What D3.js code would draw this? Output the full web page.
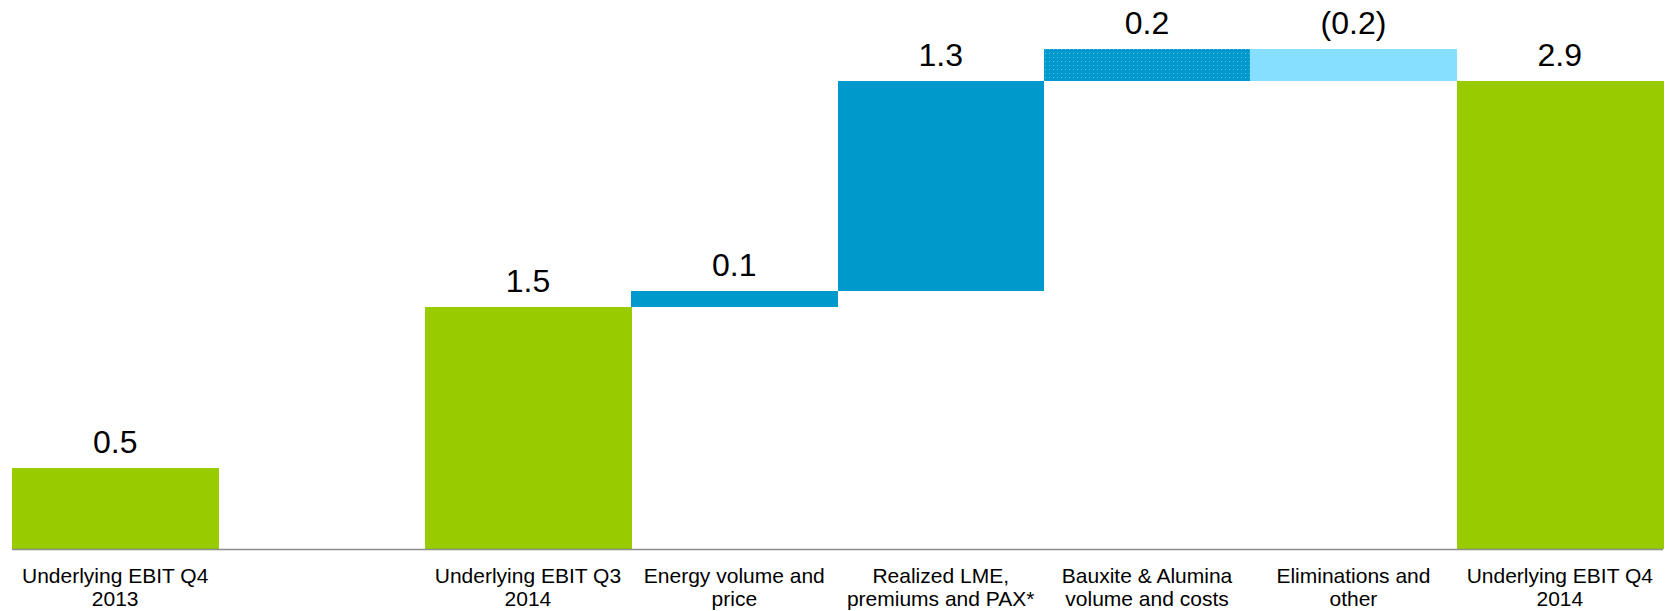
<!DOCTYPE html>
<html>
<head>
<meta charset="utf-8">
<script src="https://cdn.jsdelivr.net/npm/d3@7"></script>
<style>
  html, body { margin: 0; padding: 0; background: #fff; }
  svg { display: block; }
  text { font-family: "Liberation Sans", Arial, sans-serif; fill: #000; }
</style>
</head>
<body>
<svg id="chart" width="1671" height="611"></svg>
<script>
// EBIT bridge, Q4 2013 -> Q4 2014 (NOK billion)
const categories = [
  "Underlying EBIT Q4 2013",
  "",
  "Underlying EBIT Q3 2014",
  "Energy volume and price",
  "Realized LME, premiums and PAX*",
  "Bauxite & Alumina volume and costs",
  "Eliminations and other",
  "Underlying EBIT Q4 2014"
];
const categoryLines = [
  ["Underlying EBIT Q4", "2013"],
  [],
  ["Underlying EBIT Q3", "2014"],
  ["Energy volume and", "price"],
  ["Realized LME,", "premiums and PAX*"],
  ["Bauxite & Alumina", "volume and costs"],
  ["Eliminations and", "other"],
  ["Underlying EBIT Q4", "2014"]
];
// "total" bars start at zero, "delta" bars float on the running total
const values = [0.5, null, 1.5, 0.1, 1.3, 0.2, -0.2, 2.9];
const kinds  = ["total", null, "total", "delta", "delta", "delta", "delta", "total"];
const styles = ["green", null, "green", "blue", "blue", "dotted", "light", "green"];

const fills = {
  green: "#99cc00",
  blue: "#0099cc",
  dotted: "url(#dots)",
  light: "#87dfff"
};

const svg = d3.select("#chart");

// dotted fill for the bauxite & alumina step
const pat = svg.append("defs").append("pattern")
  .attr("id", "dots")
  .attr("width", 4).attr("height", 4)
  .attr("patternUnits", "userSpaceOnUse");
pat.append("rect").attr("width", 4).attr("height", 4).attr("fill", "#0099cc");
pat.append("rect").attr("x", 1).attr("y", 1).attr("width", 1).attr("height", 1).attr("fill", "#5cc0e6");

const x = d3.scaleBand().domain(categories.map((c, i) => i)).range([12, 1663]).padding(0);
const y = d3.scaleLinear().domain([0, 3.1]).range([549, 49]);

// running totals for the floating steps
let running = 0;
const bars = [];
values.forEach((v, i) => {
  if (v === null) return;
  let start, end;
  if (kinds[i] === "total") { start = 0; end = v; running = v; }
  else { start = running; end = running + v; running = end; }
  bars.push({ i, v, start, end, style: styles[i] });
});

svg.append("g").selectAll("rect")
  .data(bars)
  .join("rect")
  .attr("x", d => x(d.i))
  .attr("width", x.bandwidth() + 0.5)
  .attr("y", d => y(Math.max(d.start, d.end)))
  .attr("height", d => Math.abs(y(d.start) - y(d.end)))
  .attr("fill", d => fills[d.style])
  .attr("shape-rendering", "crispEdges");

const fmt = v => v < 0 ? "(" + d3.format(".1f")(-v) + ")" : d3.format(".1f")(v);

svg.append("g").selectAll("text")
  .data(bars)
  .join("text")
  .attr("x", d => x(d.i) + x.bandwidth() / 2)
  .attr("y", d => y(Math.max(d.start, d.end)) - 15)
  .attr("text-anchor", "middle")
  .attr("font-size", 32)
  .text(d => fmt(d.v));

// baseline axis with wrapped category labels
const axis = svg.append("g")
  .attr("transform", `translate(0,${y(0)})`)
  .call(d3.axisBottom(x).tickSize(0).tickFormat(""));
axis.select(".domain").attr("stroke", "#8c8c8c").attr("stroke-width", 1.5)
  .attr("d", `M12,0.5H1663`);

const lbl = svg.append("g").selectAll("text")
  .data(categoryLines.map((lines, i) => ({ lines, i })).filter(d => d.lines.length))
  .join("text")
  .attr("text-anchor", "middle")
  .attr("font-size", 21)
  .attr("x", d => x(d.i) + x.bandwidth() / 2)
  .attr("y", y(0) + 34);
lbl.selectAll("tspan")
  .data(d => d.lines.map(l => ({ l, cx: x(d.i) + x.bandwidth() / 2 })))
  .join("tspan")
  .attr("x", t => t.cx)
  .attr("dy", (t, k) => k === 0 ? 0 : 23)
  .text(t => t.l);
</script>
</body>
</html>
